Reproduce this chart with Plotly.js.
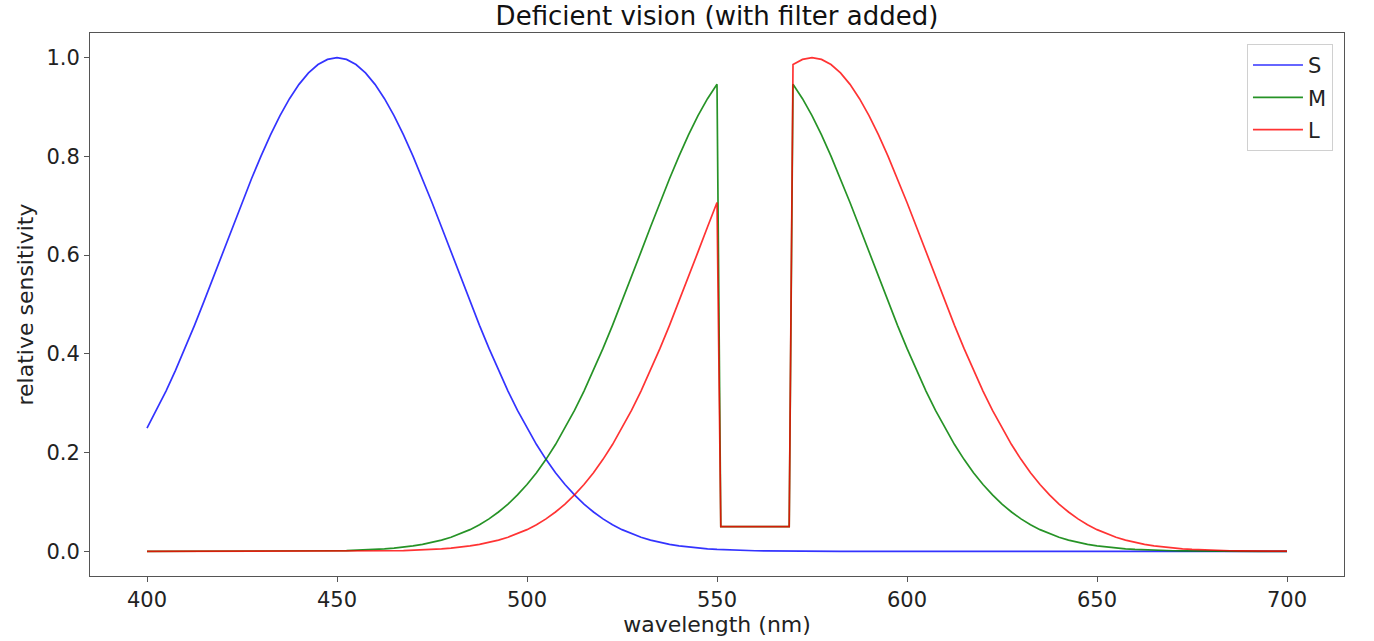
<!DOCTYPE html>
<html>
<head>
<meta charset="utf-8">
<script src="https://cdn.plot.ly/plotly-3.0.1.min.js"></script>
<style>html,body{margin:0;padding:0;background:#fff;}#chart{width:1374px;height:641px;}</style>
</head>
<body>
<div id="chart"></div>
<script>
// wavelengths (nm)
const wavelength = [400,402.5,405,407.5,410,412.5,415,417.5,420,422.5,425,427.5,430,432.5,435,437.5,440,442.5,445,447.5,450,452.5,455,457.5,460,462.5,465,467.5,470,472.5,475,477.5,480,482.5,485,487.5,490,492.5,495,497.5,500,502.5,505,507.5,510,512.5,515,517.5,520,522.5,525,527.5,530,532.5,535,537.5,540,542.5,545,547.5,550,
  551,552.5,555,557.5,560,562.5,565,567.5,569,
  570,572.5,575,577.5,580,582.5,585,587.5,590,592.5,595,597.5,600,602.5,605,607.5,610,612.5,615,617.5,620,622.5,625,627.5,630,632.5,635,637.5,640,642.5,645,647.5,650,652.5,655,657.5,660,662.5,665,667.5,670,672.5,675,677.5,680,682.5,685,687.5,690,692.5,695,697.5,700];
// relative sensitivity
const S = [0.2494,0.2855,0.3247,0.3666,0.4111,0.4578,0.5063,0.5561,0.6065,0.6570,0.7066,0.7548,0.8007,0.8435,0.8825,0.9169,0.9460,0.9692,0.9862,0.9965,1.0000,
  0.9965,0.9862,0.9692,0.9460,0.9169,0.8825,0.8435,0.8007,0.7548,0.7066,0.6570,0.6065,0.5561,0.5063,0.4578,0.4111,0.3666,0.3247,0.2855,0.2494,0.2163,0.1863,0.1593,0.1353,0.1142,0.0956,0.0796,0.0657,0.0539,0.0439,0.0355,0.0286,0.0228,0.0181,0.0142,0.0111,0.0086,0.0066,0.0051,0.0039,
  0.0035,0.0029,0.0022,0.0016,0.0012,0.0009,0.0006,0.0005,0.0004,
  0.0003,0.0002,0.0002,0.0001,0.0001,0,0,0,0,0,0,0,0,0,0,0,0,0,0,0,0,0,0,0,0,0,0,0,0,0,0,0,0,0,0,0,0,0,0,0,0,0,0,0,0,0,0,0,0,0,0,0,0];
const M = [0,0,0,0,0,0,0,0,0,0,0,0,
  0.0001,0.0001,0.0002,0.0002,0.0003,0.0005,0.0006,0.0009,0.0012,0.0016,0.0022,0.0029,0.0039,0.0051,0.0066,0.0086,0.0111,0.0142,0.0181,0.0228,0.0286,0.0355,0.0439,0.0539,0.0657,0.0796,0.0956,0.1142,0.1353,0.1593,0.1863,0.2163,0.2494,0.2855,0.3247,0.3666,0.4111,0.4578,0.5063,0.5561,0.6065,0.6570,0.7066,0.7548,0.8007,0.8435,0.8825,0.9169,0.9460,
  0.05,0.05,0.05,0.05,0.05,0.05,0.05,0.05,0.05,
  0.9460,0.9169,0.8825,0.8435,0.8007,0.7548,0.7066,0.6570,0.6065,0.5561,0.5063,0.4578,0.4111,0.3666,0.3247,0.2855,0.2494,0.2163,0.1863,0.1593,0.1353,0.1142,0.0956,0.0796,0.0657,0.0539,0.0439,0.0355,0.0286,0.0228,0.0181,0.0142,0.0111,0.0086,0.0066,0.0051,0.0039,0.0029,0.0022,0.0016,0.0012,0.0009,0.0006,0.0005,0.0003,0.0002,0.0002,0.0001,0.0001,0,0,0,0];
const L = [0,0,0,0,0,0,0,0,0,0,0,0,0,0,0,0,0,0,
  0.0001,0.0001,0.0002,0.0002,0.0003,0.0005,0.0006,0.0009,0.0012,0.0016,0.0022,0.0029,0.0039,0.0051,0.0066,0.0086,0.0111,0.0142,0.0181,0.0228,0.0286,0.0355,0.0439,0.0539,0.0657,0.0796,0.0956,0.1142,0.1353,0.1593,0.1863,0.2163,0.2494,0.2855,0.3247,0.3666,0.4111,0.4578,0.5063,0.5561,0.6065,0.6570,0.7066,
  0.05,0.05,0.05,0.05,0.05,0.05,0.05,0.05,0.05,
  0.9862,0.9965,1.0000,0.9965,0.9862,0.9692,0.9460,0.9169,0.8825,0.8435,0.8007,0.7548,0.7066,0.6570,0.6065,0.5561,0.5063,0.4578,0.4111,0.3666,0.3247,0.2855,0.2494,0.2163,0.1863,0.1593,0.1353,0.1142,0.0956,0.0796,0.0657,0.0539,0.0439,0.0355,0.0286,0.0228,0.0181,0.0142,0.0111,0.0086,0.0066,0.0051,0.0039,0.0029,0.0022,0.0016,0.0012,0.0009,0.0006,0.0005,0.0003,0.0002,0.0002];
const seriesNames = ['S','M','L'];
const xTicks = [400,450,500,550,600,650,700];
const yTicks = [0.0,0.2,0.4,0.6,0.8,1.0];

const colors = ['rgba(0,0,255,0.8)','rgba(0,128,0,0.85)','rgba(255,0,0,0.8)'];
const data = [S,M,L].map((v,i)=>({
  x: wavelength, y: v, type:'scatter', mode:'lines', name: seriesNames[i],
  legendgroup: seriesNames[i],
  line:{color:colors[i], width:1.7}
}));

const ff = 'DejaVu Sans, sans-serif';
const layout = {
  width:1374, height:641,
  margin:{l:90, r:30, t:33, b:65},
  paper_bgcolor:'#fff', plot_bgcolor:'#fff',
  font:{family:ff, color:'#222', size:21},
  title:{text:'Deficient vision (with filter added)', x:0.5, xref:'paper', xanchor:'center', y:0.975, yanchor:'middle', font:{family:ff, size:26, color:'#111'}},
  xaxis:{
    range:[385,715], tickvals:xTicks, ticktext:xTicks.map(String),
    showgrid:false, zeroline:false, showline:true, linecolor:'#555', linewidth:1, mirror:true,
    ticks:'outside', ticklen:5, tickcolor:'#555', tickfont:{family:ff, size:21, color:'#222'},
    title:{text:'wavelength (nm)', font:{family:ff, size:22, color:'#222'}, standoff:1}
  },
  yaxis:{
    range:[-0.05,1.05], tickvals:yTicks, ticktext:yTicks.map(v=>v.toFixed(1)),
    showgrid:false, zeroline:false, showline:true, linecolor:'#555', linewidth:1, mirror:true,
    ticks:'outside', ticklen:5, tickcolor:'#555', tickfont:{family:ff, size:21, color:'#222'},
    title:{text:'relative sensitivity', font:{family:ff, size:22, color:'#222'}, standoff:6}
  },
  showlegend:true,
  legend:{x:0.9912, xanchor:'right', y:0.98, yanchor:'top', traceorder:'grouped', tracegroupgap:2, itemwidth:50,
    bgcolor:'rgba(255,255,255,0.9)', bordercolor:'#d0d0d0', borderwidth:1, font:{family:ff, size:21, color:'#222'}}
};
Plotly.newPlot('chart', data, layout, {displayModeBar:false, staticPlot:true});
</script>
</body>
</html>
